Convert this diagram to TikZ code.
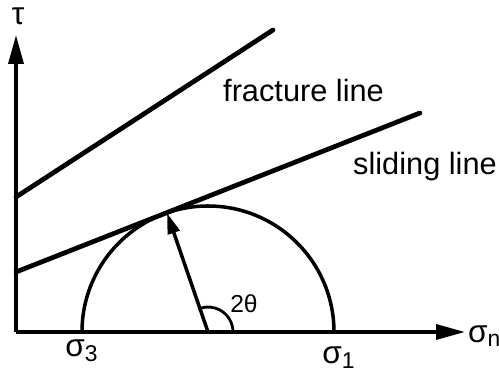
\documentclass[tikz,border=0pt]{standalone}
\usepackage{fontspec}
\setmainfont{Liberation Sans}
\usetikzlibrary{arrows.meta,calc}
\begin{document}
\begin{tikzpicture}[
    axis/.style={black, line width=2pt, -{Triangle[length=0.58cm,width=0.3cm]}},
    bigline/.style={black, line width=2.7pt, line cap=round},
    lbl/.style={font=\fontsize{17.5}{20}\selectfont},
    sig/.style={font=\fontsize{18}{20}\selectfont}]
  \useasboundingbox (-0.32,-0.84) rectangle (9.66,6.64);
  \coordinate (O) at (0,0);
  \coordinate (C) at (3.84,0);
  % axes
  \draw[axis] (O) -- (0,5.94) coordinate (tautip);
  \draw[axis] (O) -- (8.98,0) coordinate (sigtip);
  \node[sig, inner sep=0pt] (tau) at (0.04,6.32) {τ};
  \node[sig, anchor=west, inner sep=1pt] (sn) at (9.0,-0.08) {σ\textsubscript{\fontsize{13}{13}\selectfont n}};
  % Mohr circle
  \draw[black, line width=2pt] (6.36,0) arc[start angle=0, end angle=180, radius=2.52];
  \node[sig] (s3) at (1.32,-0.38) {σ\textsubscript{\fontsize{13}{13}\selectfont 3}};
  \node[sig] (s1) at (6.46,-0.52) {σ\textsubscript{\fontsize{13}{13}\selectfont 1}};
  % radius and angle
  \coordinate (P) at ($(C)+(109:2.52)$);
  \draw[black, line width=2pt, -{Triangle[length=0.42cm,width=0.24cm]}] (C) -- (P);
  \draw[black, line width=1.6pt] ($(C)+(0.5,0)$) arc[start angle=0, end angle=109, radius=0.5];
  \node[font=\fontsize{14}{16}\selectfont] (ang) at (4.56,0.56) {2θ};
  % failure lines
  \draw[bigline] (0,2.70) coordinate (fa) -- (5.14,6.04) coordinate (fb);
  \draw[bigline] (0,1.20) coordinate (sa) -- (8.08,4.38) coordinate (sb);
  \node[lbl, anchor=base west] (frac) at (4.02,4.60) {fracture line};
  \node[lbl, anchor=base west] (slid) at (6.62,3.14) {sliding line};
\end{tikzpicture}
\end{document}
